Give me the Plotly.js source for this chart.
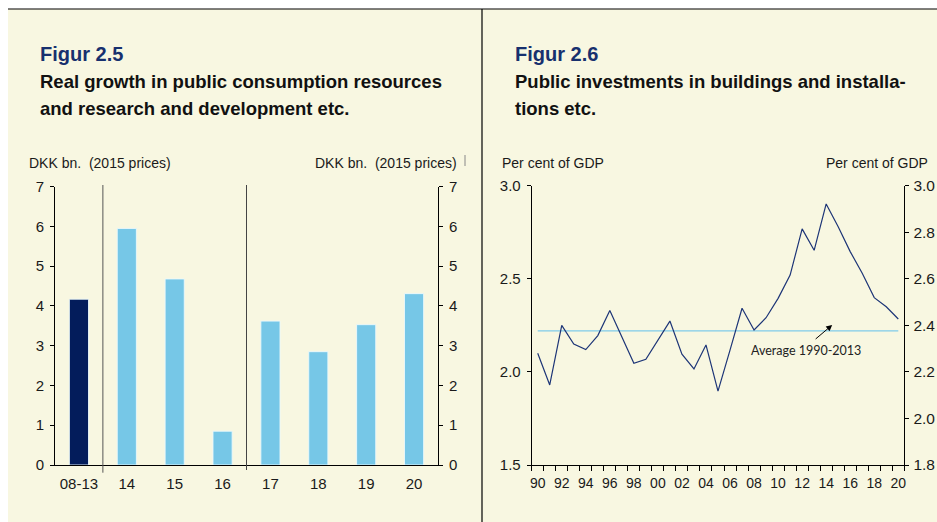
<!DOCTYPE html>
<html><head><meta charset="utf-8">
<script src="https://cdn.plot.ly/plotly-3.0.1.min.js"></script>
<style>html,body{margin:0;padding:0;background:#fff;}#chart{width:937px;height:522px;}</style>
</head><body><div id="chart"></div>
<script>
// ---- Figure 2.5 data ----
const categories = ['08-13', '14', '15', '16', '17', '18', '19', '20'];
const growthValues = [4.17, 5.95, 4.68, 0.85, 3.62, 2.85, 3.53, 4.31];

// ---- Figure 2.6 data ----
const years = [1990, 1991, 1992, 1993, 1994, 1995, 1996, 1997, 1998, 1999, 2000, 2001, 2002, 2003, 2004, 2005,
               2006, 2007, 2008, 2009, 2010, 2011, 2012, 2013, 2014, 2015, 2016, 2017, 2018, 2019, 2020];
const investShare = [2.10, 1.93, 2.25, 2.15, 2.12, 2.195, 2.33, 2.19, 2.046, 2.068, 2.17, 2.273, 2.095, 2.016, 2.145, 1.897,
                     2.117, 2.342, 2.225, 2.291, 2.395, 2.52, 2.768, 2.653, 2.902, 2.78, 2.646, 2.53, 2.399, 2.35, 2.284];
const averageYears = [1990, 2020];
const averageValue = [2.22, 2.22];
const yearTickVals = [1990, 1992, 1994, 1996, 1998, 2000, 2002, 2004, 2006, 2008, 2010, 2012, 2014, 2016, 2018, 2020];
const yearTickText = ['90', '92', '94', '96', '98', '00', '02', '04', '06', '08', '10', '12', '14', '16', '18', '20'];

const W = 937, H = 522;
const px = v => v / W;
const py = v => 1 - v / H;
const FONT = 'Liberation Sans, Arial, sans-serif';
const CREAM = '#F8F7E1';
const NAVY = '#031C5B';
const LIGHT = '#76C7E7';

const barColors = categories.map((c, i) => i === 0 ? NAVY : LIGHT);
const boundaryTicks = [years[0] - 0.5].concat(years.map(y => y + 0.5));

const traces = [
  {type: 'bar', x: categories, y: growthValues, xaxis: 'x', yaxis: 'y', width: 0.4,
   marker: {color: barColors, line: {color: 'rgba(235,248,252,0.9)', width: 1}}, hoverinfo: 'skip'},
  // invisible helper so the right-hand axis of fig 2.5 is drawn
  {type: 'scatter', mode: 'markers', x: categories, y: growthValues, xaxis: 'x', yaxis: 'y2',
   marker: {opacity: 0}, hoverinfo: 'skip'},
  {type: 'scatter', mode: 'lines', x: averageYears, y: averageValue, xaxis: 'x3', yaxis: 'y3',
   line: {color: '#7FCBEA', width: 1.2}, hoverinfo: 'skip'},
  {type: 'scatter', mode: 'lines', x: years, y: investShare, xaxis: 'x3', yaxis: 'y3',
   line: {color: '#1D3577', width: 1.2}, hoverinfo: 'skip'},
  // invisible helper so the right-hand axis of fig 2.6 is drawn
  {type: 'scatter', mode: 'markers', x: years, y: investShare, xaxis: 'x3', yaxis: 'y4',
   marker: {opacity: 0}, hoverinfo: 'skip'}
];

const tickFont = {family: FONT, size: 15, color: '#1a1a1a'};
const yBase = {showline: true, linecolor: '#000', linewidth: 1, ticks: 'outside', ticklen: 4, tickcolor: '#000',
               showgrid: false, zeroline: false, tickfont: tickFont, fixedrange: true, autorange: false,
               ticklabelstandoff: 3};

const layout = {
  width: W, height: H, margin: {l: 0, r: 0, t: 0, b: 0, pad: 0},
  paper_bgcolor: '#ffffff', plot_bgcolor: 'rgba(0,0,0,0)', showlegend: false,
  font: {family: FONT, color: '#1a1a1a'},
  xaxis: {domain: [px(55), px(438)], type: 'category', range: [-0.5, 7.5], anchor: 'y',
          showline: true, linecolor: '#000', linewidth: 1, ticks: 'outside', ticklen: 5,
          tickcolor: 'rgba(0,0,0,0)', showgrid: false, tickfont: tickFont, fixedrange: true},
  yaxis: Object.assign({}, yBase, {domain: [py(465), py(186.7)], range: [0, 7], dtick: 1, anchor: 'x'}),
  yaxis2: Object.assign({}, yBase, {overlaying: 'y', side: 'right', anchor: 'x', range: [0, 7], dtick: 1}),
  xaxis3: {domain: [px(531.7), px(904.3)], range: [1989.5, 2020.5], anchor: 'y3',
           tickvals: yearTickVals, ticktext: yearTickText, ticks: 'outside', ticklen: 5,
           tickcolor: 'rgba(0,0,0,0)', showline: true, linecolor: '#000', linewidth: 1,
           showgrid: false, zeroline: false, tickfont: {family: FONT, size: 14, color: '#1a1a1a'}, fixedrange: true,
           minor: {tickvals: boundaryTicks, ticks: 'outside', ticklen: 5, tickcolor: '#000', showgrid: false}},
  yaxis3: Object.assign({}, yBase, {domain: [py(465), py(185.7)], range: [1.5, 3.0], dtick: 0.5,
           tickformat: '.1f', anchor: 'x3'}),
  yaxis4: Object.assign({}, yBase, {overlaying: 'y3', side: 'right', anchor: 'x3', range: [1.8, 3.0],
           dtick: 0.2, tickformat: '.1f', ticklabelstandoff: 1,
           tickfont: {family: FONT, size: 15.5, color: '#1a1a1a'}}),
  shapes: [
    {type: 'rect', xref: 'paper', yref: 'paper', x0: px(8), x1: 1, y0: 0, y1: py(9),
     fillcolor: CREAM, line: {width: 0}, layer: 'below'},
    {type: 'line', xref: 'paper', yref: 'paper', x0: px(8), x1: 1, y0: py(9), y1: py(9),
     line: {color: '#000', width: 1.2}},
    {type: 'line', xref: 'paper', yref: 'paper', x0: px(482), x1: px(482), y0: 0, y1: py(9),
     line: {color: '#000', width: 1.2}},
    {type: 'line', xref: 'x', yref: 'paper', x0: 0.5, x1: 0.5, y0: py(472.7), y1: py(185),
     line: {color: '#555', width: 1}},
    {type: 'line', xref: 'x', yref: 'paper', x0: 3.5, x1: 3.5, y0: py(470), y1: py(185),
     line: {color: '#444', width: 1}},
    {type: 'line', xref: 'paper', yref: 'paper', x0: px(465), x1: px(465), y0: py(166), y1: py(155),
     line: {color: '#888', width: 1}}
  ],
  annotations: [
    {text: 'Figur 2.5', xref: 'paper', yref: 'paper', x: px(38), y: py(54), xanchor: 'left', yanchor: 'middle',
     showarrow: false, font: {family: FONT, size: 20, color: '#17306E', weight: 'bold'}},
    {text: 'Real growth in public consumption resources', xref: 'paper', yref: 'paper', x: px(38), y: py(81.5),
     xanchor: 'left', yanchor: 'middle', showarrow: false, font: {family: FONT, size: 18.5, color: '#111', weight: 'bold'}},
    {text: 'and research and development etc.', xref: 'paper', yref: 'paper', x: px(38), y: py(108.5),
     xanchor: 'left', yanchor: 'middle', showarrow: false, font: {family: FONT, size: 18.5, color: '#111', weight: 'bold'}},
    {text: 'Figur 2.6', xref: 'paper', yref: 'paper', x: px(513), y: py(54), xanchor: 'left', yanchor: 'middle',
     showarrow: false, font: {family: FONT, size: 20, color: '#17306E', weight: 'bold'}},
    {text: 'Public investments in buildings and installa-', xref: 'paper', yref: 'paper', x: px(513), y: py(81.5),
     xanchor: 'left', yanchor: 'middle', showarrow: false, font: {family: FONT, size: 18.5, color: '#111', weight: 'bold'}},
    {text: 'tions etc.', xref: 'paper', yref: 'paper', x: px(513), y: py(108.5),
     xanchor: 'left', yanchor: 'middle', showarrow: false, font: {family: FONT, size: 18.5, color: '#111', weight: 'bold'}},
    {text: 'DKK bn.  (2015 prices)', xref: 'paper', yref: 'paper', x: px(27), y: py(163),
     xanchor: 'left', yanchor: 'middle', showarrow: false, font: {family: FONT, size: 14, color: '#1a1a1a'}},
    {text: 'DKK bn.  (2015 prices)', xref: 'paper', yref: 'paper', x: px(459), y: py(163),
     xanchor: 'right', yanchor: 'middle', showarrow: false, font: {family: FONT, size: 14, color: '#1a1a1a'}},
    {text: 'Per cent of GDP', xref: 'paper', yref: 'paper', x: px(500), y: py(163),
     xanchor: 'left', yanchor: 'middle', showarrow: false, font: {family: FONT, size: 14, color: '#1a1a1a'}},
    {text: 'Per cent of GDP', xref: 'paper', yref: 'paper', x: px(930), y: py(163),
     xanchor: 'right', yanchor: 'middle', showarrow: false, font: {family: FONT, size: 14, color: '#1a1a1a'}},
    {text: 'Average 1990-2013', xref: 'x3', yref: 'y3', x: 2007.6, y: 2.114,
     xanchor: 'left', yanchor: 'middle', showarrow: false, font: {family: 'Lato, Carlito, sans-serif', size: 12.5, color: '#222'}},
    {text: '', xref: 'x3', yref: 'y3', x: 2014.5, y: 2.252, axref: 'x3', ayref: 'y3', ax: 2013.0, ay: 2.17,
     showarrow: true, arrowhead: 2, arrowsize: 1.2, arrowwidth: 1, arrowcolor: '#000'}
  ]
};

Plotly.newPlot('chart', traces, layout, {displayModeBar: false, staticPlot: true});
</script>
</body></html>
